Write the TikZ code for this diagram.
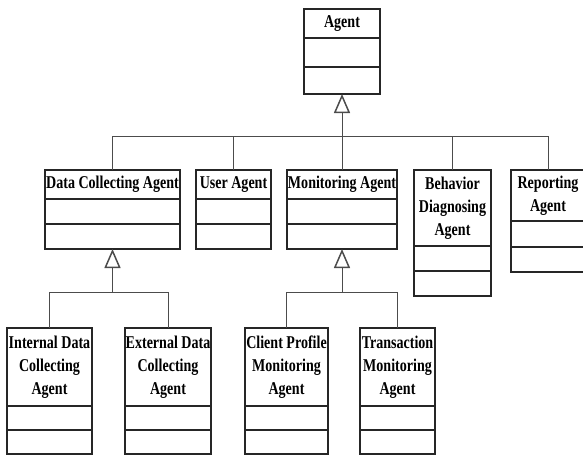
\documentclass[tikz,border=0pt]{standalone}
\usepackage{fontspec}
\setmainfont{Liberation Serif}[FakeStretch=0.78]
\usetikzlibrary{positioning,arrows.meta}
\begin{document}
\begin{tikzpicture}[x=1pt,y=-1pt,
  cls/.style={draw=black!85, line width=1.5pt, inner sep=0pt, outer sep=0pt, anchor=north, align=center,
    font=\fontsize{18}{23}\selectfont\bfseries},
  cmp/.style={draw=black!85, line width=1.5pt, inner sep=0pt, outer sep=0pt},
  link/.style={draw=black!70, line width=0.9pt},
  gen/.style={link, -{Triangle[open, length=19pt, width=16pt, line width=1.5pt]}}]
\useasboundingbox (0,0) rectangle (583,455);
% top class
\node[cls, minimum width=76pt, minimum height=29pt] (agent) at (342,9) {Agent};
\node[cmp, minimum width=76pt, minimum height=29pt, below=0pt of agent] (agent1) {};
\node[cmp, minimum width=76pt, minimum height=27pt, below=0pt of agent1] (agent2) {};
% second row
\node[cls, minimum width=135pt, minimum height=29pt] (dca) at (112.5,170) {Data Collecting Agent};
\node[cmp, minimum width=135pt, minimum height=25pt, below=0pt of dca] (dca1) {};
\node[cmp, minimum width=135pt, minimum height=25pt, below=0pt of dca1] (dca2) {};
\node[cls, minimum width=75pt, minimum height=29pt] (usr) at (233.5,170) {User Agent};
\node[cmp, minimum width=75pt, minimum height=25pt, below=0pt of usr] (usr1) {};
\node[cmp, minimum width=75pt, minimum height=25pt, below=0pt of usr1] (usr2) {};
\node[cls, minimum width=110pt, minimum height=29pt] (mon) at (342,170) {Monitoring Agent};
\node[cmp, minimum width=110pt, minimum height=25pt, below=0pt of mon] (mon1) {};
\node[cmp, minimum width=110pt, minimum height=25pt, below=0pt of mon1] (mon2) {};
\node[cls, minimum width=77pt, minimum height=76pt] (bda) at (452.5,170) {Behavior\\Diagnosing\\Agent};
\node[cmp, minimum width=77pt, minimum height=25pt, below=0pt of bda] (bda1) {};
\node[cmp, minimum width=77pt, minimum height=25pt, below=0pt of bda1] (bda2) {};
\node[cls, minimum width=74pt, minimum height=51pt] (rep) at (548,170) {Reporting\\Agent};
\node[cmp, minimum width=74pt, minimum height=26pt, below=0pt of rep] (rep1) {};
\node[cmp, minimum width=74pt, minimum height=25pt, below=0pt of rep1] (rep2) {};
% third row
\node[cls, minimum width=85pt, minimum height=78pt] (idca) at (49.5,328) {Internal Data\\Collecting\\Agent};
\node[cmp, minimum width=85pt, minimum height=24pt, below=0pt of idca] (idca1) {};
\node[cmp, minimum width=85pt, minimum height=24pt, below=0pt of idca1] (idca2) {};
\node[cls, minimum width=86pt, minimum height=78pt] (edca) at (168,328) {External Data\\Collecting\\Agent};
\node[cmp, minimum width=86pt, minimum height=24pt, below=0pt of edca] (edca1) {};
\node[cmp, minimum width=86pt, minimum height=24pt, below=0pt of edca1] (edca2) {};
\node[cls, minimum width=83pt, minimum height=78pt] (cpma) at (286.5,328) {Client Profile\\Monitoring\\Agent};
\node[cmp, minimum width=83pt, minimum height=24pt, below=0pt of cpma] (cpma1) {};
\node[cmp, minimum width=83pt, minimum height=24pt, below=0pt of cpma1] (cpma2) {};
\node[cls, minimum width=75pt, minimum height=78pt] (tma) at (397.5,328) {Transaction\\Monitoring\\Agent};
\node[cmp, minimum width=75pt, minimum height=24pt, below=0pt of tma] (tma1) {};
\node[cmp, minimum width=75pt, minimum height=24pt, below=0pt of tma1] (tma2) {};
% junctions
\coordinate (jagent) at (342,136);
\coordinate (jdca) at (112.5,292);
\coordinate (jmon) at (342,292);
% generalisations
\draw[gen] (jagent) -- (agent2.south);
\foreach \c in {dca,usr,mon,bda,rep}
  \draw[link] (\c.north) |- (jagent);
\draw[gen] (jdca) -- (dca2.south);
\foreach \c in {idca,edca}
  \draw[link] (\c.north) |- (jdca);
\draw[gen] (jmon) -- (mon2.south);
\foreach \c in {cpma,tma}
  \draw[link] (\c.north) |- (jmon);
\end{tikzpicture}
\end{document}
